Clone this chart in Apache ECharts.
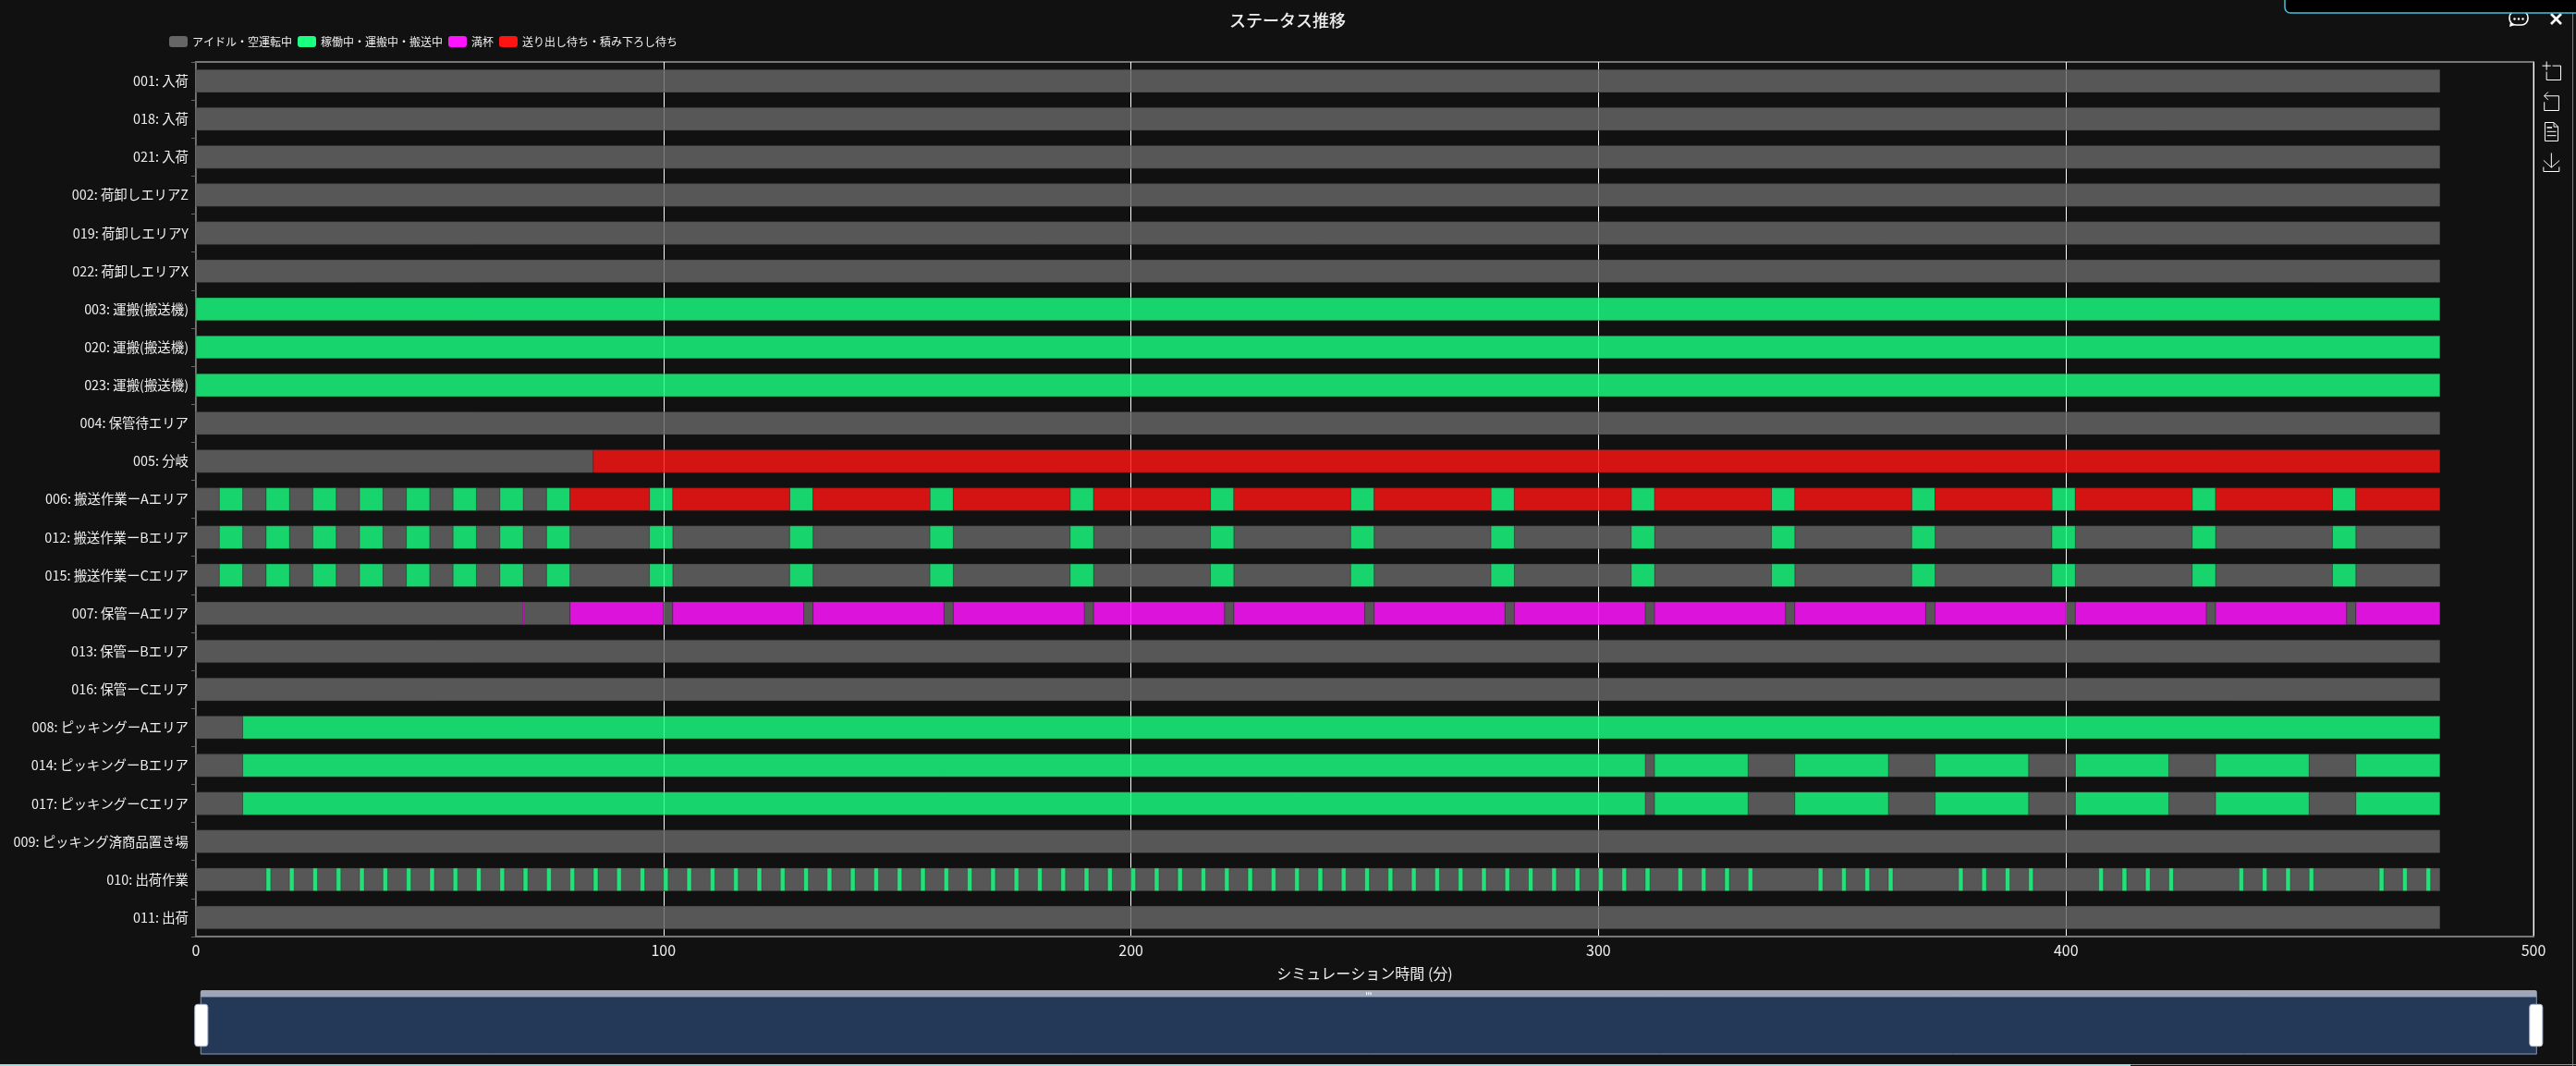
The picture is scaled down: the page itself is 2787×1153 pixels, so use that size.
<!DOCTYPE html>
<html>
<head>
<meta charset="utf-8">
<style>
html,body{margin:0;padding:0;background:#111;}
#main{width:2787px;height:1153px;}
</style>
<script src="https://cdn.jsdelivr.net/npm/echarts@6/dist/echarts.min.js"></script>
</head>
<body>
<div id="main"></div>
<script>
var FONT = '"Noto Sans CJK JP", sans-serif';

var stateNames = ["アイドル・空運転中", "稼働中・運搬中・搬送中", "満杯", "送り出し待ち・積み下ろし待ち"];
var stateColors = ["#666666", "#1aff80", "#ff14ff", "#ff1414"];

var rowNames = [
	"001: 入荷", "018: 入荷", "021: 入荷",
	"002: 荷卸しエリアZ", "019: 荷卸しエリアY", "022: 荷卸しエリアX",
	"003: 運搬(搬送機)", "020: 運搬(搬送機)", "023: 運搬(搬送機)",
	"004: 保管待エリア", "005: 分岐",
	"006: 搬送作業ーAエリア", "012: 搬送作業ーBエリア", "015: 搬送作業ーCエリア",
	"007: 保管ーAエリア", "013: 保管ーBエリア", "016: 保管ーCエリア",
	"008: ピッキングーAエリア", "014: ピッキングーBエリア", "017: ピッキングーCエリア",
	"009: ピッキング済商品置き場", "010: 出荷作業", "011: 出荷"
];
var xTicks = [0, 100, 200, 300, 400, 500];

// [開始, 終了, 状態] 0:idle 1:run 2:full 3:wait
var allIdle = [[0, 480, 0]];
var allRun = [[0, 480, 1]];
var branch = [[0, 85, 0], [85, 480, 3]];
var conveyA = [
	[0, 5, 0], [5, 10, 1], [10, 15, 0], [15, 20, 1], [20, 25, 0], [25, 30, 1], [30, 35, 0], [35, 40, 1],
	[40, 45, 0], [45, 50, 1], [50, 55, 0], [55, 60, 1], [60, 65, 0], [65, 70, 1], [70, 75, 0], [75, 80, 1],
	[80, 97, 3], [97, 102, 1], [102, 127, 3], [127, 132, 1], [132, 157, 3], [157, 162, 1], [162, 187, 3],
	[187, 192, 1], [192, 217, 3], [217, 222, 1], [222, 247, 3], [247, 252, 1], [252, 277, 3], [277, 282, 1],
	[282, 307, 3], [307, 312, 1], [312, 337, 3], [337, 342, 1], [342, 367, 3], [367, 372, 1], [372, 397, 3],
	[397, 402, 1], [402, 427, 3], [427, 432, 1], [432, 457, 3], [457, 462, 1], [462, 480, 3]
];
var conveyBC = [
	[0, 5, 0], [5, 10, 1], [10, 15, 0], [15, 20, 1], [20, 25, 0], [25, 30, 1], [30, 35, 0], [35, 40, 1],
	[40, 45, 0], [45, 50, 1], [50, 55, 0], [55, 60, 1], [60, 65, 0], [65, 70, 1], [70, 75, 0], [75, 80, 1],
	[80, 97, 0], [97, 102, 1], [102, 127, 0], [127, 132, 1], [132, 157, 0], [157, 162, 1], [162, 187, 0],
	[187, 192, 1], [192, 217, 0], [217, 222, 1], [222, 247, 0], [247, 252, 1], [252, 277, 0], [277, 282, 1],
	[282, 307, 0], [307, 312, 1], [312, 337, 0], [337, 342, 1], [342, 367, 0], [367, 372, 1], [372, 397, 0],
	[397, 402, 1], [402, 427, 0], [427, 432, 1], [432, 457, 0], [457, 462, 1], [462, 480, 0]
];
var storageA = [
	[0, 70, 0], [70, 70.15, 2], [70.15, 80, 0], [80, 100, 2], [100, 102, 0], [102, 130, 2], [130, 132, 0],
	[132, 160, 2], [160, 162, 0], [162, 190, 2], [190, 192, 0], [192, 220, 2], [220, 222, 0], [222, 250, 2],
	[250, 252, 0], [252, 280, 2], [280, 282, 0], [282, 310, 2], [310, 312, 0], [312, 340, 2], [340, 342, 0],
	[342, 370, 2], [370, 372, 0], [372, 400, 2], [400, 402, 0], [402, 430, 2], [430, 432, 0], [432, 460, 2],
	[460, 462, 0], [462, 480, 2]
];
var pickingA = [[0, 10, 0], [10, 480, 1]];
var pickingBC = [
	[0, 10, 0], [10, 310, 1], [310, 312, 0], [312, 332, 1], [332, 342, 0], [342, 362, 1], [362, 372, 0],
	[372, 392, 1], [392, 402, 0], [402, 422, 1], [422, 432, 0], [432, 452, 1], [452, 462, 0], [462, 480, 1]
];
// 出荷作業の稼働開始時刻 (各1分)
var shippingStarts = [
	15, 20, 25, 30, 35, 40, 45, 50, 55, 60, 65, 70, 75, 80, 85, 90, 95, 100, 105, 110, 115, 120, 125, 130, 135,
	140, 145, 150, 155, 160, 165, 170, 175, 180, 185, 190, 195, 200, 205, 210, 215, 220, 225, 230, 235, 240, 245,
	250, 255, 260, 265, 270, 275, 280, 285, 290, 295, 300, 305, 310, 317, 322, 327, 332, 347, 352, 357, 362,
	377, 382, 387, 392, 407, 412, 417, 422, 437, 442, 447, 452, 467, 472, 477
];

var rowSegments = [
	allIdle, allIdle, allIdle, allIdle, allIdle, allIdle,
	allRun, allRun, allRun,
	allIdle, branch,
	conveyA, conveyBC, conveyBC,
	storageA, allIdle, allIdle,
	pickingA, pickingBC, pickingBC,
	allIdle, null, allIdle
];

var seriesData = [[], [], [], []];
rowSegments.forEach(function(segs, row) {
	if (segs) {
		segs.forEach(function(s) {
			seriesData[s[2]].push([row, s[0], s[1]]);
		});
	}
});
// 010: 出荷作業 はアイドルの上に稼働を重ねる
seriesData[0].push([21, 0, 480]);
shippingStarts.forEach(function(t) {
	seriesData[1].push([21, t, t + 1]);
});

function renderSegment(params, api) {
	var row = api.value(0);
	var start = api.coord([api.value(1), row]);
	var end = api.coord([api.value(2), row]);
	var h = api.size([0, 1])[1] * 0.6;
	var rect = echarts.graphic.clipRectByRect({
		x: start[0],
		y: start[1] - h / 2,
		width: end[0] - start[0],
		height: h
	}, {
		x: params.coordSys.x,
		y: params.coordSys.y,
		width: params.coordSys.width,
		height: params.coordSys.height
	});
	return rect && {
		type: "rect",
		shape: rect,
		style: {
			fill: api.visual("color"),
			// 細すぎる区間は枠線なし
			stroke: rect.width < 2 ? null : "rgba(40,40,40,0.45)",
			lineWidth: 1,
			opacity: params.seriesIndex === 2 ? 0.85 : 0.82
		}
	};
}

var series = stateNames.map(function(name, i) {
	return {
		name: name,
		type: "custom",
		renderItem: renderSegment,
		itemStyle: { color: stateColors[i] },
		encode: { x: [1, 2], y: 0 },
		animation: false,
		data: seriesData[i]
	};
});

var myChart = echarts.init(document.getElementById("main"), null, { renderer: "canvas" });
myChart.setOption({
	backgroundColor: "#111111",
	animation: false,
	title: {
		text: "ステータス推移",
		left: 1388,
		textAlign: "center",
		top: 8,
		textStyle: { color: "#eeeeee", fontSize: 18, fontWeight: 500, fontFamily: FONT }
	},
	legend: {
		left: 178,
		top: 34,
		itemWidth: 20,
		itemHeight: 12,
		itemGap: 6,
		textStyle: { color: "#eeeeee", fontSize: 12, fontFamily: FONT },
		data: stateNames
	},
	toolbox: {
		show: true,
		orient: "vertical",
		right: -1,
		top: 49,
		itemSize: 20,
		itemGap: 8,
		iconStyle: { borderColor: "#ffffff" },
		feature: {
			dataZoom: { yAxisIndex: "none" },
			dataView: { readOnly: true },
			saveAsImage: {}
		}
	},
	grid: {
		left: 212,
		right: 46,
		top: 67,
		bottom: 140,
		show: true,
		borderColor: "#777777",
		borderWidth: 2
	},
	xAxis: {
		type: "value",
		min: 0,
		max: xTicks[xTicks.length - 1],
		interval: 100,
		name: "シミュレーション時間 (分)",
		nameLocation: "middle",
		nameGap: 32,
		nameTextStyle: { color: "#eeeeee", fontSize: 16, fontFamily: FONT },
		axisLine: { show: true, lineStyle: { color: "#777777", width: 2 } },
		axisTick: { show: false },
		axisLabel: { color: "#eeeeee", fontSize: 16, fontFamily: FONT, margin: 7 },
		splitLine: { show: true, lineStyle: { color: "#ffffff", width: 1 } }
	},
	yAxis: {
		type: "category",
		inverse: true,
		data: rowNames,
		axisLine: { show: true, lineStyle: { color: "#666666", width: 1 } },
		axisTick: { show: true, length: 5, lineStyle: { color: "#666666" } },
		axisLabel: { color: "#eeeeee", fontSize: 14.4, fontFamily: FONT, margin: 8 },
		splitLine: { show: false }
	},
	dataZoom: [{
		type: "slider",
		xAxisIndex: 0,
		filterMode: "none",
		start: 0,
		end: 100,
		left: 214,
		right: 45,
		top: 1071,
		height: 63,
		showDataShadow: false,
		showDetail: false,
		fillerColor: "rgba(36,57,87,1)",
		borderColor: "#8a93a8",
		moveHandleSize: 7,
		moveHandleStyle: { color: "#9fa6b8", opacity: 1 },
		handleIcon: "path://M3,0 h8 a3,3 0 0 1 3,3 v39 a3,3 0 0 1 -3,3 h-8 a3,3 0 0 1 -3,-3 v-39 a3,3 0 0 1 3,-3 z",
		handleSize: "72%",
		handleStyle: { color: "#ffffff", borderColor: "#aab4c8" }
	}],
	graphic: [
		{ type: "rect", silent: true, z: 100, shape: { x: 2715, y: 12, width: 20, height: 15, r: 7 }, style: { fill: "none", stroke: "#ffffff", lineWidth: 1.6 } },
		{ type: "polygon", silent: true, z: 100, shape: { points: [[2716, 24], [2715, 29], [2721, 27]] }, style: { fill: "#ffffff" } },
		{ type: "circle", silent: true, z: 100, shape: { cx: 2720.5, cy: 20.5, r: 1.2 }, style: { fill: "#ffffff" } },
		{ type: "circle", silent: true, z: 100, shape: { cx: 2725, cy: 20.5, r: 1.2 }, style: { fill: "#ffffff" } },
		{ type: "circle", silent: true, z: 100, shape: { cx: 2729.5, cy: 20.5, r: 1.2 }, style: { fill: "#ffffff" } },
		{ type: "line", silent: true, z: 100, shape: { x1: 2760, y1: 15, x2: 2771, y2: 26 }, style: { stroke: "#ffffff", lineWidth: 2.6 } },
		{ type: "line", silent: true, z: 100, shape: { x1: 2771, y1: 15, x2: 2760, y2: 26 }, style: { stroke: "#ffffff", lineWidth: 2.6 } },
		{ type: "rect", silent: true, z: 101, shape: { x: 2472, y: -6, width: 330, height: 20, r: 6 }, style: { fill: "#000000", stroke: "#46c2dc", lineWidth: 1.5 } },
		{ type: "rect", silent: true, z: 100, shape: { x: 2783, y: 14, width: 1, height: 1139 }, style: { fill: "#5f8a92" } },
		{ type: "rect", silent: true, z: 100, shape: { x: 0, y: 1151, width: 2305, height: 2 }, style: { fill: "#9adfe0" } },
		{ type: "rect", silent: true, z: 100, shape: { x: 2305, y: 1151, width: 482, height: 1 }, style: { fill: "#6fa3a8" } }
	],
	series: series
});
</script>
</body>
</html>
